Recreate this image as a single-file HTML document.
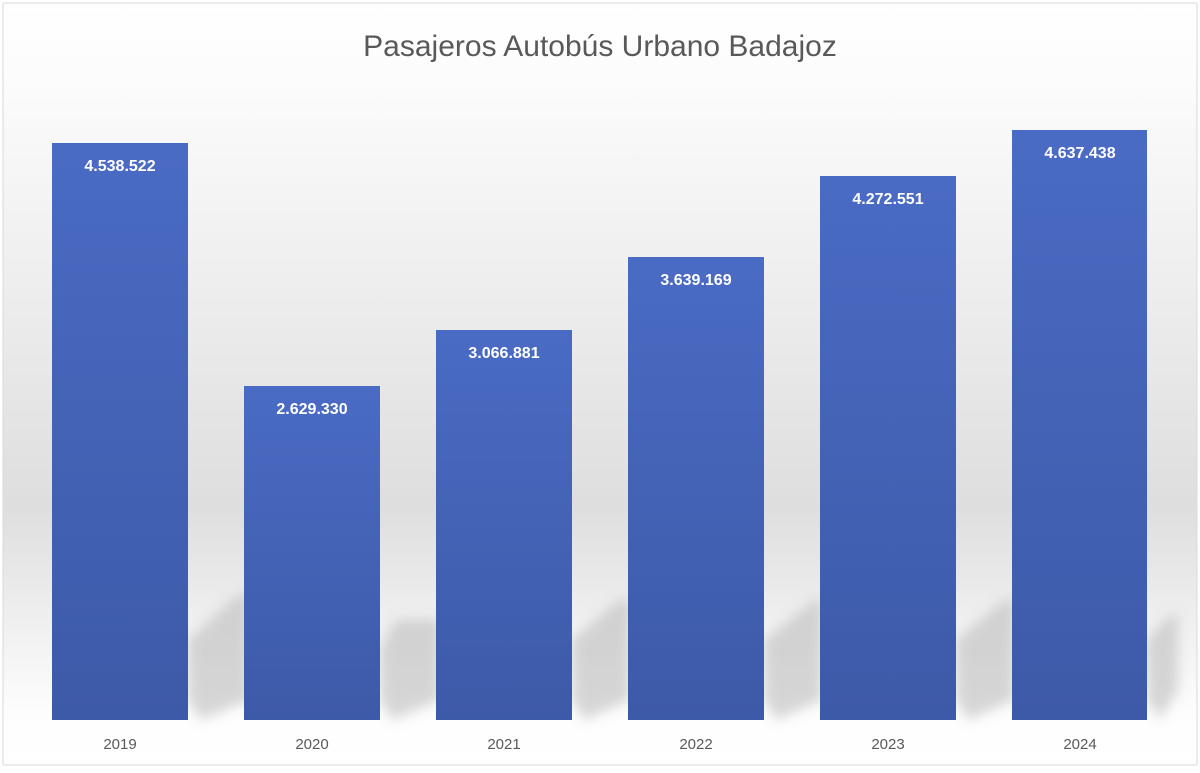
<!DOCTYPE html>
<html><head><meta charset="utf-8"><style>
body{margin:0;width:1200px;height:768px;background:#fff;overflow:hidden}
</style></head><body>
<svg width="1200" height="768" xmlns="http://www.w3.org/2000/svg">
<defs>
<linearGradient id="bg" x1="0" y1="0" x2="0" y2="1">
<stop offset="0" stop-color="#fff"/>
<stop offset="0.12" stop-color="#fbfbfb"/>
<stop offset="0.66" stop-color="#dedede"/>
<stop offset="0.93" stop-color="#fdfdfd"/>
<stop offset="1" stop-color="#fff"/>
</linearGradient>
<linearGradient id="bar" x1="0" y1="0" x2="0" y2="1">
<stop offset="0" stop-color="#4a6bc4"/>
<stop offset="1" stop-color="#3d5aa8"/>
</linearGradient>
<filter id="blur"><feGaussianBlur stdDeviation="6"/></filter>
</defs>
<rect x="3" y="3" width="1194" height="762" fill="url(#bg)" stroke="#d9d9d9" stroke-width="1"/>
<g fill="#bdbdbd" filter="url(#blur)" opacity="0.6">
<polygon points="188,700 188,640 238,595 250,595 250,700 200,720"/>
<polygon points="380,700 380,650 395,620 440,620 440,700 392,720"/>
<polygon points="572,700 572,640 620,600 630,600 630,700 584,720"/>
<polygon points="764,700 764,640 815,600 822,600 822,700 776,720"/>
<polygon points="956,700 956,640 1005,600 1014,600 1014,700 968,720"/>
<polygon points="1147,700 1147,640 1170,615 1178,615 1178,690 1160,720"/>
</g>
<g fill="url(#bar)">
<rect x="52" y="143" width="136" height="577"/>
<rect x="244" y="386" width="136" height="334"/>
<rect x="436" y="330" width="136" height="390"/>
<rect x="628" y="257" width="136" height="463"/>
<rect x="820" y="176" width="136" height="544"/>
<rect x="1012" y="130" width="135" height="590"/>
</g>
<g font-family="Liberation Sans, sans-serif" font-weight="bold" font-size="16" fill="#fff" text-anchor="middle">
<text x="120" y="171">4.538.522</text>
<text x="312" y="414">2.629.330</text>
<text x="504" y="358">3.066.881</text>
<text x="696" y="285">3.639.169</text>
<text x="888" y="204">4.272.551</text>
<text x="1080" y="158">4.637.438</text>
</g>
<g font-family="Liberation Sans, sans-serif" font-size="15" fill="#595959" text-anchor="middle">
<text x="120" y="749">2019</text>
<text x="312" y="749">2020</text>
<text x="504" y="749">2021</text>
<text x="696" y="749">2022</text>
<text x="888" y="749">2023</text>
<text x="1080" y="749">2024</text>
</g>
<text x="600" y="56" font-family="Liberation Sans, sans-serif" font-size="30" fill="#595959" text-anchor="middle">Pasajeros Autobús Urbano Badajoz</text>
</svg>
</body></html>
